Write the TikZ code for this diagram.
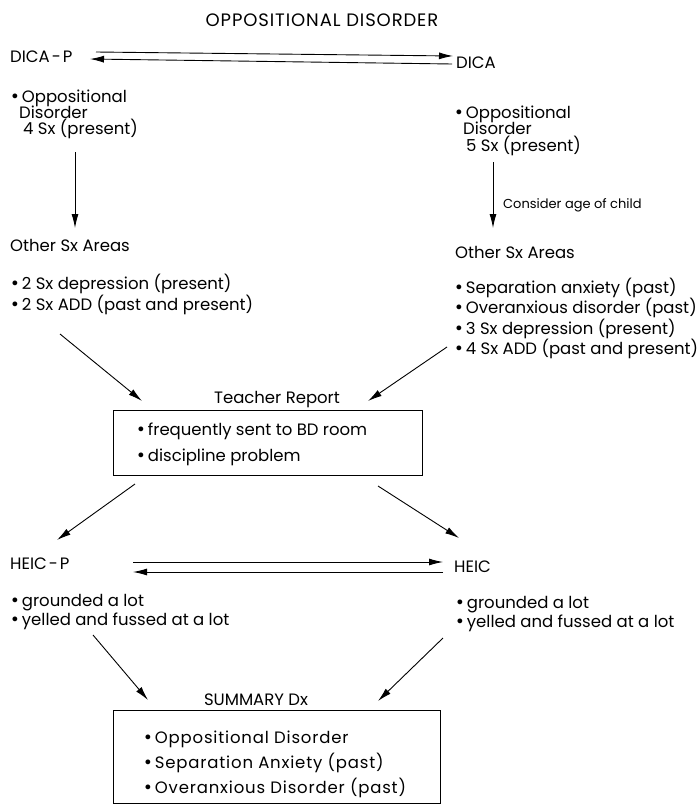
\documentclass[tikz,border=0pt]{standalone}
\usepackage{fontspec}
\setmainfont{Poppins}
\newfontfamily\dejavu{DejaVu Sans}
\newfontfamily\spaced[LetterSpace=5]{Poppins}
\newfontfamily\titlefont[LetterSpace=5]{Poppins}
\usetikzlibrary{arrows.meta}
\newcommand\bul{{\dejavu •}\hspace{2pt}}
\begin{document}
\begin{tikzpicture}[x=1pt,y=-1pt,
  arr/.style={-{Latex[length=14pt,width=7pt]}, line width=0.9pt},
  txt/.style={anchor=base west, inner sep=0pt, font=\fontsize{16.5}{19}\selectfont},
  ctr/.style={anchor=base, inner sep=0pt, font=\fontsize{16.5}{19}\selectfont},
  sml/.style={anchor=base west, inner sep=0pt, font=\fontsize{13}{15}\selectfont},
  sumtxt/.style={anchor=base west, inner sep=0pt, font=\spaced\fontsize{16.5}{19}\selectfont},
  boxx/.style={draw, line width=0.9pt}]
\useasboundingbox (0,0) rectangle (698,811);
% title
\node[ctr, font=\titlefont\fontsize{18}{20}\selectfont] (title) at (322,26) {OPPOSITIONAL DISORDER};
% top row
\node[txt] (dicap) at (10,62) {DICA\kern2pt-\kern2pt P};
\node[txt] (dica) at (456,68) {DICA};
\coordinate (ta) at (96,52); \coordinate (tb) at (453,56);
\coordinate (tc) at (452,64); \coordinate (td) at (90,59);
\draw[arr] (ta) -- (tb);
\draw[arr] (tc) -- (td);
% left DICA-P block
\node[txt] (l1) at (10,102) {\bul Oppositional};
\node[txt] (l2) at (19,118) {Disorder};
\node[txt] (l3) at (23,134) {4 Sx (present)};
\coordinate (la) at (75,152); \coordinate (lb) at (75,228);
\draw[arr] (la) -- (lb);
\node[txt] (lother) at (10,251) {Other Sx Areas};
\node[txt] (lb1) at (10,289) {\bul 2 Sx depression (present)};
\node[txt] (lb2) at (10,310) {\bul 2 Sx ADD (past and present)};
% right DICA block
\node[txt] (r1) at (454,118) {\bul Oppositional};
\node[txt] (r2) at (463,134) {Disorder};
\node[txt] (r3) at (466,151) {5 Sx (present)};
\coordinate (ra) at (493,162); \coordinate (rb) at (493,228);
\draw[arr] (ra) -- (rb);
\node[sml] (consider) at (503,208) {Consider age of child};
\node[txt] (rother) at (455,258) {Other Sx Areas};
\node[txt] (rb1) at (454,293) {\bul Separation anxiety (past)};
\node[txt] (rb2) at (454,313) {\bul Overanxious disorder (past)};
\node[txt] (rb3) at (454,334) {\bul 3 Sx depression (present)};
\node[txt] (rb4) at (454,354) {\bul 4 Sx ADD (past and present)};
% teacher report
\node[ctr] (teacher) at (277,403) {Teacher Report};
\node[boxx, minimum width=309pt, minimum height=65pt, anchor=north west] (tbox) at (113,410) {};
\node[txt] (t1) at (136,435) {\bul frequently sent to BD room};
\node[txt] (t2) at (136,461) {\bul discipline problem};
\coordinate (a1s) at (60,334); \coordinate (a1e) at (142,401);
\coordinate (a2s) at (447,347); \coordinate (a2e) at (368,401);
\draw[arr] (a1s) -- (a1e);
\draw[arr] (a2s) -- (a2e);
\coordinate (b1s) at (135,484); \coordinate (b1e) at (57,540);
\coordinate (b2s) at (378,486); \coordinate (b2e) at (459,538);
\draw[arr] (b1s) -- (b1e);
\draw[arr] (b2s) -- (b2e);
% HEIC row
\node[txt] (heicp) at (10,569) {HEIC\kern2pt-\kern2pt P};
\node[txt] (heic) at (454,572) {HEIC};
\coordinate (ha) at (133,562); \coordinate (hb) at (443,562);
\coordinate (hc) at (443,572); \coordinate (hd) at (133,572);
\draw[arr] (ha) -- (hb);
\draw[arr] (hc) -- (hd);
\node[txt] (hl1) at (10,606) {\bul grounded a lot};
\node[txt] (hl2) at (10,625) {\bul yelled and fussed at a lot};
\node[txt] (hr1) at (455,608) {\bul grounded a lot};
\node[txt] (hr2) at (455,627) {\bul yelled and fussed at a lot};
% summary
\coordinate (c1s) at (93,635); \coordinate (c1e) at (148,700);
\coordinate (c2s) at (443,638); \coordinate (c2e) at (378,701);
\draw[arr] (c1s) -- (c1e);
\draw[arr] (c2s) -- (c2e);
\node[ctr] (summary) at (256,705) {SUMMARY Dx};
\node[boxx, minimum width=327pt, minimum height=93pt, anchor=north west] (sbox) at (113,710) {};
\node[sumtxt] (s1) at (143,743) {\bul Oppositional Disorder};
\node[sumtxt] (s2) at (143,768) {\bul Separation Anxiety (past)};
\node[sumtxt] (s3) at (143,793) {\bul Overanxious Disorder (past)};
\end{tikzpicture}
\end{document}
